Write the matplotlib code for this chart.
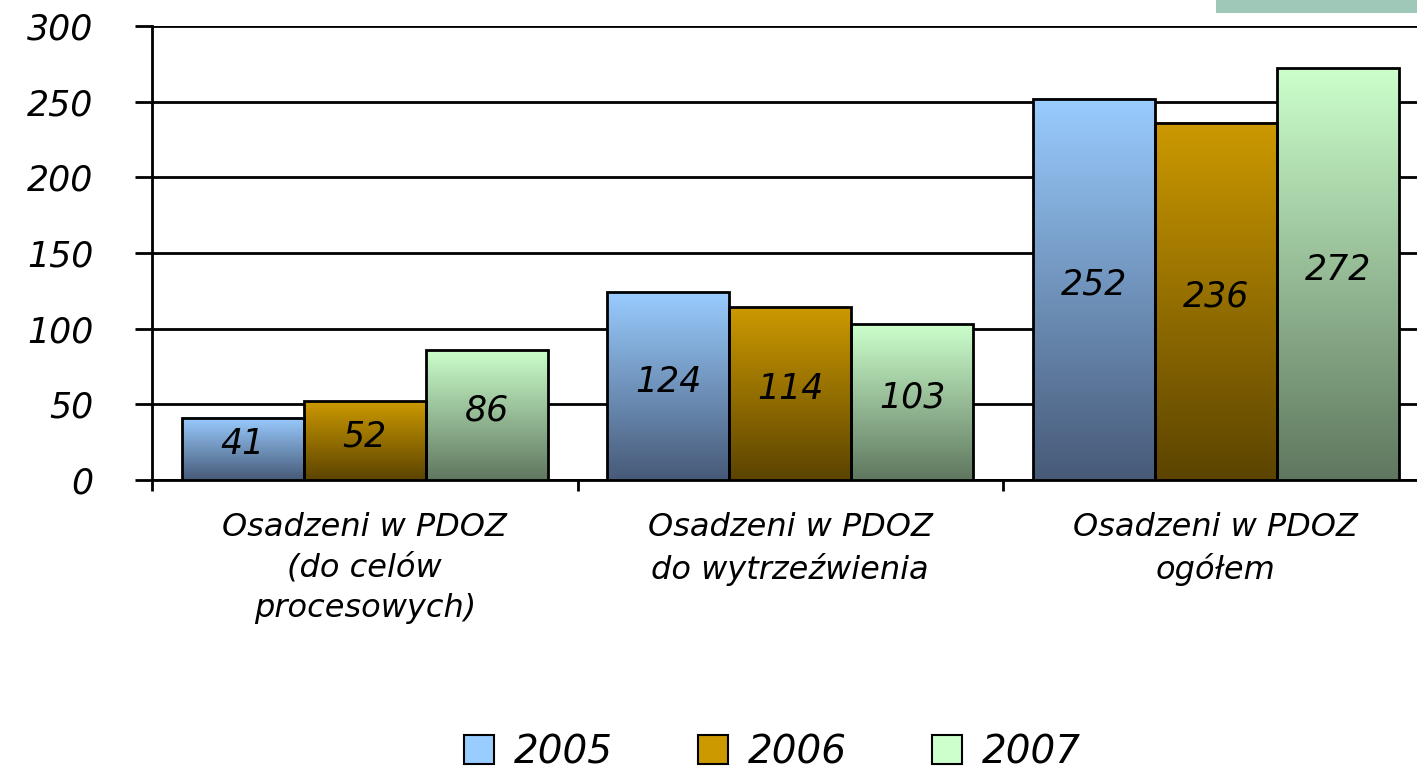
import numpy as np
import matplotlib
matplotlib.use("Agg")
import matplotlib.pyplot as plt
from matplotlib.colors import LinearSegmentedColormap
from matplotlib.patches import Rectangle

categories = ["Osadzeni w PDOZ\n(do celów\nprocesowych)",
              "Osadzeni w PDOZ\ndo wytrzeźwienia",
              "Osadzeni w PDOZ\nogółem"]
years = ["2005", "2006", "2007"]
v2005 = [41, 124, 252]
v2006 = [52, 114, 236]
v2007 = [86, 103, 272]
series = [v2005, v2006, v2007]

# (top, bottom) colours of the gradient fill
grads = [("#99ccff", "#475a78"),
         ("#cc9900", "#5c4400"),
         ("#ccffcc", "#5f775f")]

plt.rcParams['font.family'] = ['DejaVu Sans']
fig = plt.figure(figsize=(14.17, 7.75), dpi=100)
ax = fig.add_axes([152/1417, 1-480/775, 1276.5/1417, 454/775])

x = np.arange(len(categories))
w = 0.287
grad = np.linspace(1, 0, 256).reshape(-1, 1)
for i, vals in enumerate(series):
  cmap = LinearSegmentedColormap.from_list("g%d" % i, [grads[i][1], grads[i][0]])
  pos = x + (i-1)*w
  ax.bar(pos, vals, w, color="none", edgecolor="black", linewidth=2, zorder=4)
  for p, v in zip(pos, vals):
    ax.imshow(grad, cmap=cmap, vmin=0, vmax=1, aspect="auto", zorder=3,
              extent=[p-w/2, p+w/2, 0, v], interpolation="bilinear")
    ax.text(p, v/2+3, str(v), ha="center", va="center", fontsize=25,
            style="italic", zorder=5)

ax.set_xlim(-0.5, 2.5)
ax.set_ylim(0, 300)
ax.set_yticks(np.arange(0, 301, 50))
ax.yaxis.grid(True, color="black", linewidth=2)
ax.set_axisbelow(True)
for s in ["top", "right"]:
  ax.spines[s].set_visible(False)
ax.spines["left"].set_linewidth(2)
ax.spines["bottom"].set_linewidth(2)
ax.tick_params(axis="y", length=12, width=2, pad=30, labelsize=25)
for t in ax.get_yticklabels():
  t.set_style("italic")
ax.set_xticks([-0.5, 0.5, 1.5])
ax.set_xticklabels([])
ax.tick_params(axis="x", length=8, width=2)
for c, lab in zip(x, categories):
  ax.text(c, -21, lab, ha="center", va="top", fontsize=23, style="italic",
          linespacing=1.4, transform=ax.transData, clip_on=False)

# legend
handles = [Rectangle((0, 0), 1, 1, facecolor=grads[i][0], edgecolor="black", linewidth=1.5)
           for i in range(3)]
leg = fig.legend(handles, years, loc="center", bbox_to_anchor=(0.545, 1-752/775),
                 ncol=3, frameon=False, fontsize=28, handlelength=0.77, handleheight=0.77,
                 columnspacing=2.2, handletextpad=0.5, borderpad=0.2)
for t in leg.get_texts():
  t.set_style("italic")

# small green box top right
fig.patches.append(Rectangle((1216/1417, 1-13/775), 201/1417, 13/775, transform=fig.transFigure,
                             facecolor="#a0c8b8", edgecolor="none"))

fig.savefig("out.png", dpi=100)
